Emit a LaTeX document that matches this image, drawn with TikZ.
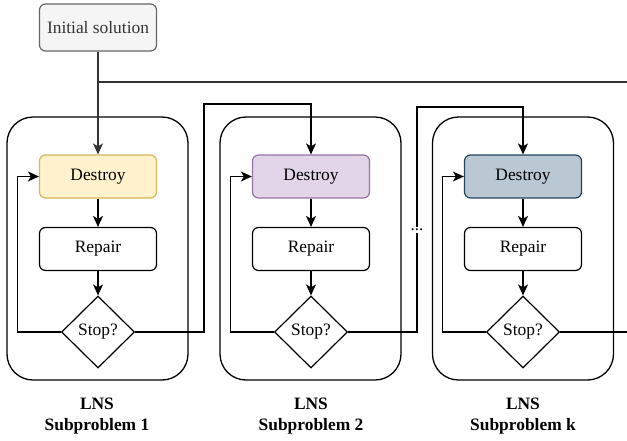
\documentclass[tikz,border=0pt]{standalone}
\usepackage{fontspec}
\setmainfont{Liberation Serif}
\usetikzlibrary{arrows.meta,shapes.geometric}
\definecolor{initfill}{HTML}{F5F5F5}
\definecolor{initdraw}{HTML}{666666}
\definecolor{inittext}{HTML}{333333}
\definecolor{yfill}{HTML}{FFF2CC}
\definecolor{ydraw}{HTML}{D6B656}
\definecolor{pfill}{HTML}{E1D5E7}
\definecolor{pdraw}{HTML}{9673A6}
\definecolor{bfill}{HTML}{BAC8D3}
\definecolor{bdraw}{HTML}{23445D}
\definecolor{linegray}{HTML}{333333}
\begin{document}
\begin{tikzpicture}[x=1pt,y=-1pt,line width=1.4pt,
  box/.style={draw, line width=1.2pt, rounded corners=6pt, minimum width=117pt, minimum height=43pt, inner sep=0pt, font=\fontsize{17.4}{20}\selectfont},
  container/.style={draw, line width=1.3pt, rounded corners=26pt, minimum width=181pt, minimum height=263pt},
  decision/.style={draw, line width=1.2pt, diamond, minimum width=73pt, minimum height=72pt, inner sep=0pt, font=\fontsize{17.4}{20}\selectfont},
  arr/.style={-{Stealth[length=11pt,width=10pt,inset=3pt]}},
  lbl/.style={font=\bfseries\fontsize{17.4}{21}\selectfont, align=center, inner sep=0pt}
]
\useasboundingbox (0,0) rectangle (627,440);
\fill[white] (0,0) rectangle (627,440);

% containers
\node[container] (c1) at (97.5,248.5) {};
\node[container] (c2) at (310.5,248.5) {};
\node[container] (c3) at (523,248.5) {};

% initial solution
\node[box, fill=initfill, draw=initdraw, text=inittext, minimum height=47pt] (init) at (98,27.5) {Initial solution};

% destroy
\node[box, fill=yfill, draw=ydraw] (d1) at (98,176.5) {Destroy};
\node[box, fill=pfill, draw=pdraw] (d2) at (311,176.5) {Destroy};
\node[box, fill=bfill, draw=bdraw] (d3) at (523,176.5) {Destroy};

% repair
\node[box] (r1) at (98,249) {Repair};
\node[box] (r2) at (311,249) {Repair};
\node[box] (r3) at (523,249) {Repair};

% stop
\node[decision] (s1) at (98,332) {Stop?};
\node[decision] (s2) at (311,332) {Stop?};
\node[decision] (s3) at (523,332) {Stop?};

% labels
\node[lbl] (l1) at (97,416) {LNS\\Subproblem 1};
\node[lbl] (l2) at (311,416) {LNS\\Subproblem 2};
\node[lbl] (l3) at (523,416) {LNS\\Subproblem k};

% connectors
\coordinate (split) at (98,82);
\coordinate (rightend) at (627,82);
\draw[arr, linegray] (init) -- (d1);
\draw[linegray] (split) -- (rightend);

\draw[arr] (d1) -- (r1);
\draw[arr] (r1) -- (s1);
\draw[arr] (s1.west) -- ++(-43.5,0) |- (d1.west);
\draw[arr] (d2) -- (r2);
\draw[arr] (r2) -- (s2);
\draw[arr] (s2.west) -- ++(-43.5,0) |- (d2.west);
\draw[arr] (d3) -- (r3);
\draw[arr] (r3) -- (s3);
\draw[arr] (s3.west) -- ++(-43.5,0) |- (d3.west);

\coordinate (t1) at (204,104);
\coordinate (t2) at (417,107);
\coordinate (out) at (627,332);
\draw[arr] (s1.east) -| (t1) -| (d2.north);
\draw[arr] (s2.east) -| (t2) -| (d3.north);
\node[fill=white, inner sep=2pt, font=\fontsize{17}{20}\selectfont] (dots) at (417,230) {...};
\draw (s3.east) -- (out);
\end{tikzpicture}
\end{document}
